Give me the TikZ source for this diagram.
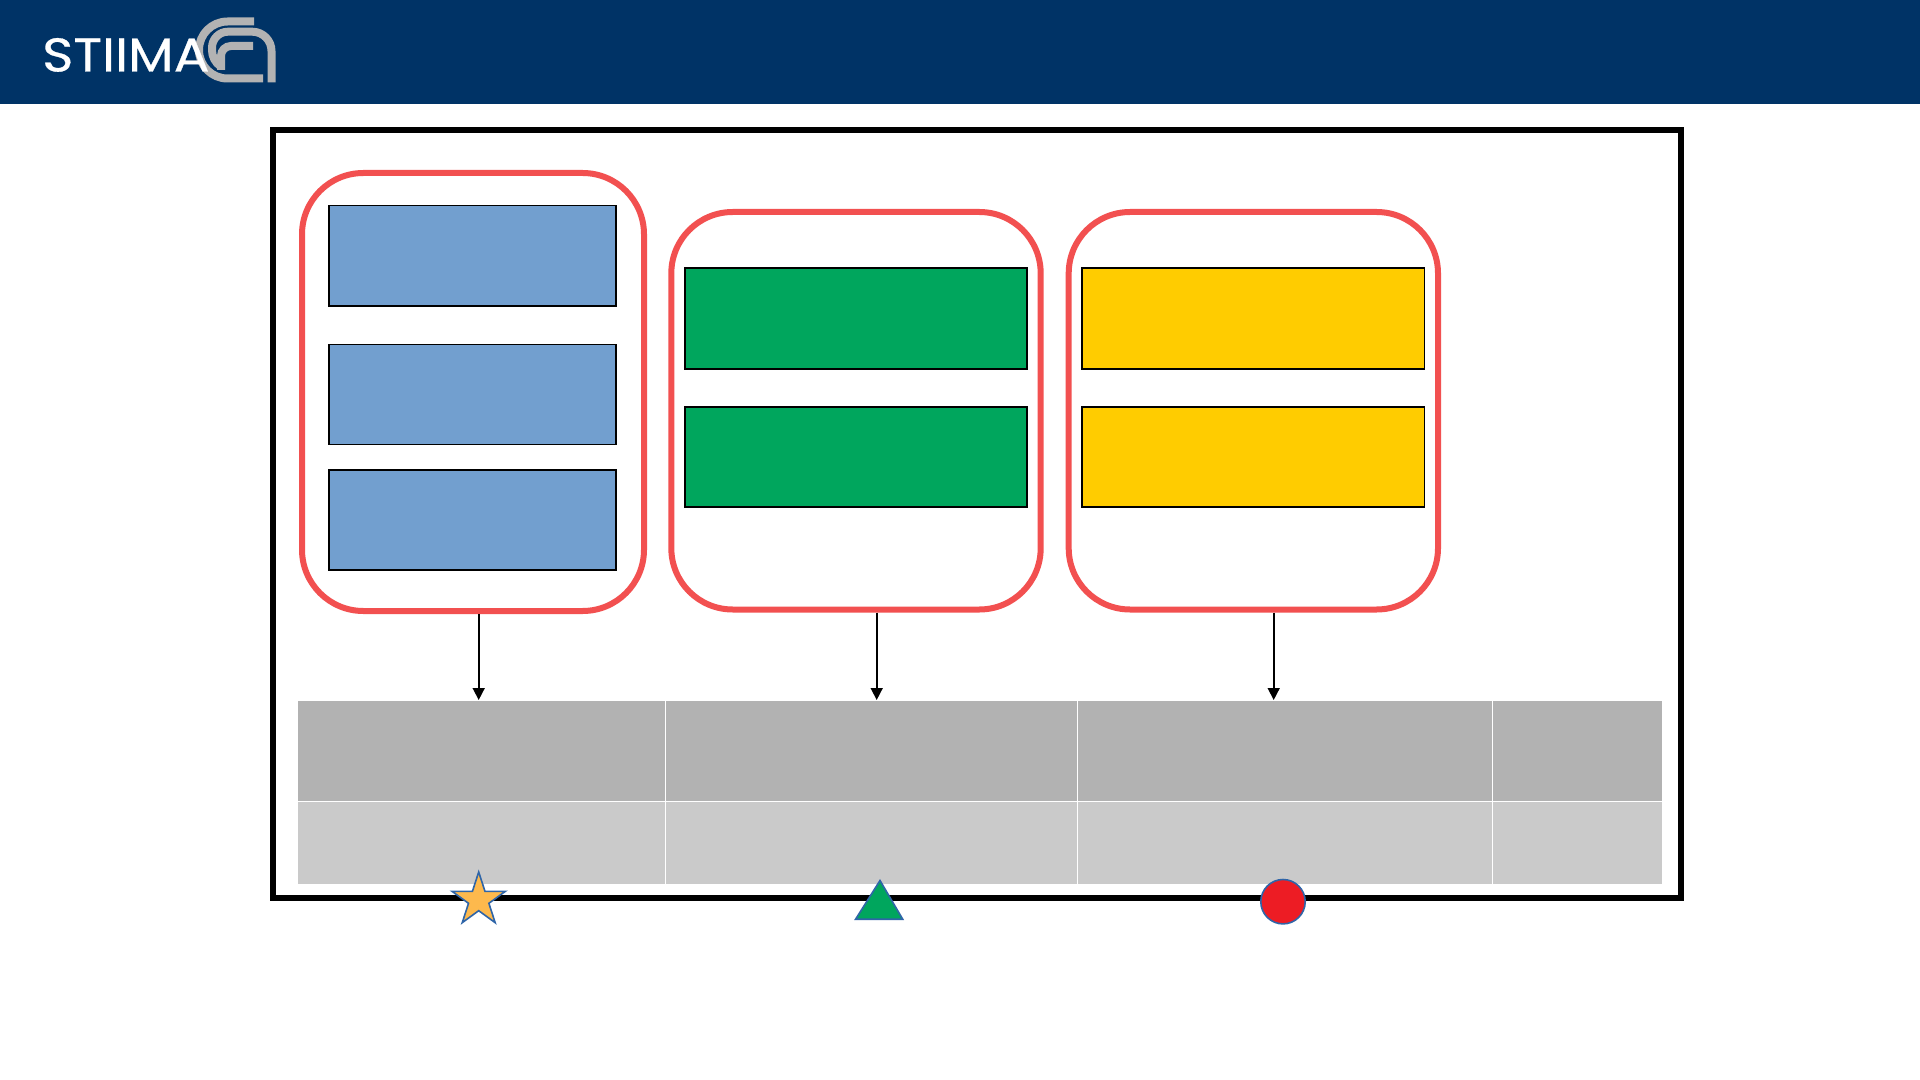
\documentclass[tikz,border=0pt]{standalone}
\usepackage{fontspec}
\usetikzlibrary{shapes.geometric,arrows.meta}
\setmainfont{Poppins}
\newfontfamily\logofont[FakeStretch=1.12,FakeBold=0.6]{Poppins}
\definecolor{headerblue}{HTML}{003366}
\definecolor{logogray}{HTML}{B3B3B3}
\definecolor{groupred}{HTML}{F25050}
\definecolor{cellblue}{HTML}{729FCF}
\definecolor{cellgreen}{HTML}{00A65D}
\definecolor{cellyellow}{HTML}{FFCC00}
\definecolor{rowdark}{HTML}{B2B2B2}
\definecolor{rowlight}{HTML}{CACACA}
\definecolor{markline}{HTML}{2F65A8}
\definecolor{markstar}{HTML}{FDB94D}
\definecolor{markred}{HTML}{ED1C24}
\tikzset{
  sized/.style 2 args={minimum width={(#1)*0.75pt},minimum height={(#2)*0.75pt},inner sep=0pt},
  groupbox/.style={draw=groupred,line width=4.5pt,rounded corners=46pt,fill=white},
  levelbox/.style={draw=black,line width=1.25pt},
  cell/.style={fill=#1,draw=none,outer sep=0pt},
  flow/.style={draw=black,line width=1.2pt,-{Triangle[length=9pt,width=9pt]}},
  marker/.style={draw=markline,line width=1.2pt,fill=#1,inner sep=0pt},
  logoband/.style={draw=logogray,line width=6pt,line cap=butt}
}
\begin{document}
\begin{tikzpicture}[x=0.75pt,y=-0.75pt]
\useasboundingbox (0,0) rectangle (1920,1080);
\fill[white] (0,0) rectangle (1920,1080);
\fill[headerblue] (0,0) rectangle (1920,104);
% logo
\draw[logoband] (254,21.5) -- (227.5,21.5) arc[start angle=270,end angle=90,radius=28.5] -- (263,78.5);
\draw[logoband] (271.5,82.5) -- (271.5,51) arc[start angle=0,end angle=-90,radius=19.3] -- (228,31.7) arc[start angle=-90,end angle=-180,radius=16] -- (212,50) arc[start angle=180,end angle=125,radius=20];
\draw[logoband] (253,46) -- (231,46) arc[start angle=-90,end angle=-180,radius=10] -- (221,70);
\node[anchor=base west,text=white,font=\logofont\fontsize{35.5pt}{36pt}\selectfont,inner sep=0pt] (logotext) at (42,71.5) {STIIMA};
% frame
\node[sized={1408}{768},draw=black,line width=4.5pt,anchor=north west] (frame) at (270,127) {};
% groups
\node[sized={342}{438},groupbox,anchor=north west] (groupA) at (299,170) {};
\node[sized={369.4}{397.5},groupbox,anchor=north west] (groupB) at (668.3,209) {};
\node[sized={369.3}{397.5},groupbox,anchor=north west] (groupC) at (1065.7,209) {};
% level boxes
\node[sized={287}{100.2},levelbox,fill=cellblue,anchor=north west] (blueA) at (328.3,204.7) {};
\node[sized={287}{100},levelbox,fill=cellblue,anchor=north west] (blueB) at (328.3,343.7) {};
\node[sized={287}{100},levelbox,fill=cellblue,anchor=north west] (blueC) at (328.3,469.3) {};
\node[sized={342.2}{101.2},levelbox,fill=cellgreen,anchor=north west] (greenA) at (684,267) {};
\node[sized={342.2}{100},levelbox,fill=cellgreen,anchor=north west] (greenB) at (684,406.3) {};
\node[sized={342.3}{101.2},levelbox,fill=cellyellow,anchor=north west] (yellowA) at (1081.3,267) {};
\node[sized={342.3}{100},levelbox,fill=cellyellow,anchor=north west] (yellowB) at (1081.3,406.3) {};
% table
\node[sized={366.8}{99.8},cell=rowdark,anchor=north west] (hA) at (298,701) {};
\node[sized={411}{99.8},cell=rowdark,anchor=north west] (hB) at (665.8,701) {};
\node[sized={414.4}{99.8},cell=rowdark,anchor=north west] (hC) at (1077.8,701) {};
\node[sized={168.8}{99.8},cell=rowdark,anchor=north west] (hD) at (1493.2,701) {};
\node[sized={366.8}{82.2},cell=rowlight,anchor=north west] (rA) at (298,801.8) {};
\node[sized={411}{82.2},cell=rowlight,anchor=north west] (rB) at (665.8,801.8) {};
\node[sized={414.4}{82.2},cell=rowlight,anchor=north west] (rC) at (1077.8,801.8) {};
\node[sized={168.8}{82.2},cell=rowlight,anchor=north west] (rD) at (1493.2,801.8) {};
% arrows
\coordinate (tA) at (478.7,700);
\coordinate (tB) at (876.7,700);
\coordinate (tC) at (1273.7,700);
\draw[flow] (tA |- groupA.south) -- (tA);
\draw[flow] (tB |- groupB.south) -- (tB);
\draw[flow] (tC |- groupC.south) -- (tC);
% markers
\node[marker=markstar,star,star points=5,star point ratio=2.618,minimum size={56*0.75pt}] (star) at (478.7,900) {};
\draw[marker=cellgreen] (880,880.5) -- (902.7,919.2) -- (855.6,919.2) -- cycle;
\node[marker=markred,circle,minimum size={44.4*0.75pt}] (dot) at (1283,901.7) {};
\end{tikzpicture}
\end{document}
